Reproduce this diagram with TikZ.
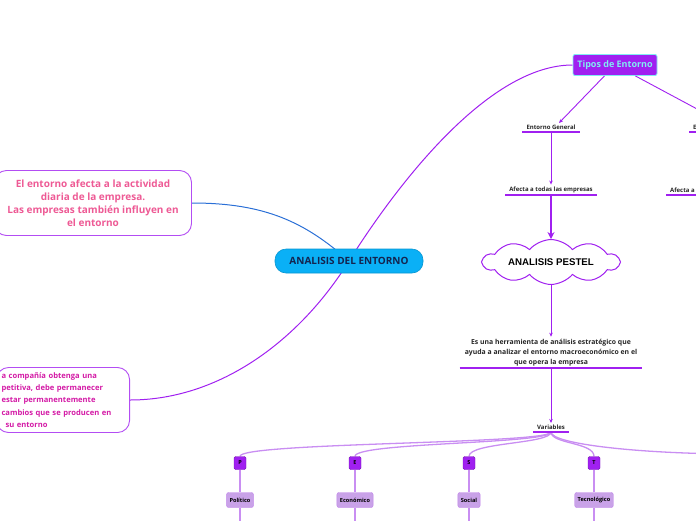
\documentclass[tikz,border=0pt]{standalone}
\usepackage{fontspec}
\setmainfont{Open Sans}
\newfontfamily\arialfont{Liberation Sans}
\usetikzlibrary{shapes.symbols,arrows.meta,backgrounds,calc}
\definecolor{mpurple}{HTML}{A020F0}
\definecolor{skyfill}{HTML}{0AB0F6}
\definecolor{navy}{HTML}{14244F}
\definecolor{pinktxt}{HTML}{EE5A95}
\definecolor{magtxt}{HTML}{D41AA6}
\definecolor{bluelink}{HTML}{2A6FD6}
\definecolor{cyantxt}{HTML}{80ECF2}
\definecolor{lavender}{HTML}{C9A2E8}
\definecolor{lightlink}{HTML}{C98EF2}
\tikzset{
  topic/.style={font=\fontsize{6}{7.5}\selectfont\bfseries,text=black!85,inner xsep=4pt,inner ysep=2pt,anchor=south},
  uline/.style={draw=mpurple,line width=1.2pt},
  link/.style={draw=mpurple,line width=0.9pt},
  arr/.style={link,-{Stealth[length=4pt,width=3.5pt]}},
  bigarr/.style={draw=mpurple,line width=2pt,-{Stealth[length=7pt,width=7pt]}},
  branch/.style={draw=mpurple,line width=1pt},
  fan/.style={draw=lightlink,line width=1.3pt},
  stem/.style={draw=lightlink,line width=1.2pt},
  notebox/.style={draw=mpurple!80,line width=0.9pt,rounded corners=12pt,fill=white,align=center}
}
\begin{document}
\begin{tikzpicture}[x=1pt,y=-1pt,
  rootbox/.style={rounded corners=11pt,fill=skyfill,draw=skyfill!85!black,line width=0.6pt,minimum width=148pt,minimum height=24pt,text=navy,font=\fontsize{10}{12}\selectfont\bfseries},
  tiposbox/.style={fill=mpurple,draw=cyantxt,line width=0.9pt,rounded corners=2pt,minimum width=84pt,minimum height=21pt,text=cyantxt,font=\fontsize{9}{11}\selectfont\bfseries},
  cloudbox/.style={cloud,draw=mpurple,line width=1pt,fill=white,cloud puffs=10,cloud puff arc=100,aspect=4.2,minimum width=136pt,minimum height=34pt,inner sep=0pt,font=\arialfont\fontsize{9.7}{11}\selectfont\bfseries},
  letterbox/.style={fill=mpurple,draw=mpurple!75!black,rounded corners=1.5pt,minimum width=12pt,minimum height=13pt,inner sep=0pt,font=\fontsize{5.5}{6}\selectfont\bfseries},
  factorbox/.style={fill=lavender,draw=lavender!75!mpurple,rounded corners=2pt,minimum height=15pt,inner xsep=3pt,font=\fontsize{5.6}{6.5}\selectfont\bfseries}]
\useasboundingbox (0,0) rectangle (696,520);
% central topic and side notes
\node[rootbox] (root) at (349,261) {ANALISIS DEL ENTORNO};
\node[notebox,text=pinktxt,minimum width=197pt,minimum height=65pt,font=\fontsize{10}{13}\selectfont\bfseries] (effect) at (93,203) {El entorno afecta a la actividad\\diaria de la empresa.\\Las empresas también influyen en\\el entorno};
\node[notebox,text=magtxt,anchor=east,text width=123pt,align=left,inner xsep=5pt,minimum height=65pt,font=\fontsize{7.6}{12.3}\selectfont\bfseries] (cause) at (130,400) {a compañía obtenga una\\petitiva, debe permanecer\\estar permanentemente\\cambios que se producen en\\\hspace*{4pt}su entorno};
% tipos de entorno
\node[tiposbox] (tipos) at (615,65) {Tipos de Entorno};
\node[topic] (gen) at (551,132) {Entorno General};
\node[topic,anchor=south west] (espe) at (689,132) {E};
\coordinate (spec) at (712,117);
\node[topic] (afe) at (551,195) {Afecta a todas las empresas};
\node[topic,anchor=south west] (afe2) at (666,195) {Afecta a};
% pestel
\node[cloudbox] (pestel) at (551,262) {ANALISIS PESTEL};
\node[topic,font=\fontsize{6.85}{10}\selectfont\bfseries,align=center,inner xsep=5pt] (herr) at (551,368) {Es una herramienta de análisis estratégico que\\ayuda a analizar el entorno macroeconómico en el\\que opera la empresa};
\node[topic] (vars) at (551,432) {Variables};
\coordinate (vnext) at (740,454);
\foreach \k/\x/\l/\t in {p/240/P/Político,e/355/E/Económico,s/469/S/Social,t/594/T/Tecnológico}{
  \node[letterbox] (\k) at (\x,463) {\l};
  \node[factorbox] (\k f) at (\x,500) {\t};
  \coordinate (\k end) at (\x,530);
}
% arrows
\draw[arr] (tipos) -- ($(gen.north)+(8,0)$);
\draw[link] (tipos) -- (spec);
\draw[arr] (gen.south) -- (afe.north);
\draw[bigarr] (afe.south) -- (pestel.north);
\draw[arr] (pestel.south) -- (herr.north);
\draw[arr] (herr.south) -- (vars.north);
\foreach \n in {gen,espe,afe,afe2,herr,vars}
  \draw[uline] (\n.south west) -- (\n.south east);
\begin{pgfonlayer}{background}
\draw[bluelink,line width=1pt] (effect.east) .. controls (265,203) and (305,222) .. (root.center);
\draw[branch] (root.center) .. controls (400,180) and (490,65) .. (tipos.west);
\draw[branch] (root.center) .. controls (300,340) and (220,400) .. (cause.east);
\foreach \k in {p,e,s,t}{
  \draw[fan] (vars.south) .. controls +(0,12) and +(0,-14) .. (\k.north);
  \draw[stem] (\k.south) -- (\k f.north);
  \draw[stem] (\k f.south) -- (\k end);
}
\draw[fan] (vars.south) .. controls +(0,12) and +(-100,0) .. (vnext);
\end{pgfonlayer}
\end{tikzpicture}
\end{document}
